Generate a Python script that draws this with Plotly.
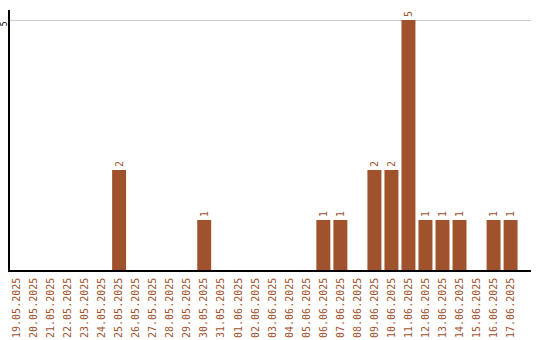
import plotly.graph_objects as go

dates = ["19.05.2025","20.05.2025","21.05.2025","22.05.2025","23.05.2025","24.05.2025",
         "25.05.2025","26.05.2025","27.05.2025","28.05.2025","29.05.2025","30.05.2025",
         "31.05.2025","01.06.2025","02.06.2025","03.06.2025","04.06.2025","05.06.2025",
         "06.06.2025","07.06.2025","08.06.2025","09.06.2025","10.06.2025","11.06.2025",
         "12.06.2025","13.06.2025","14.06.2025","15.06.2025","16.06.2025","17.06.2025"]
counts = [0,0,0,0,0,0,2,0,0,0,0,1,0,0,0,0,0,0,1,1,0,2,2,5,1,1,1,0,1,1]
labels = [str(c) if c > 0 else "" for c in counts]

color = "#A0522D"
fig = go.Figure(go.Bar(
    x=list(range(len(dates))), y=counts, text=labels,
    textposition="outside", textangle=-90, cliponaxis=False,
    textfont=dict(family="DejaVu Sans Mono", size=10, color=color),
    marker=dict(color=color, line=dict(width=0)),
))
fig.update_layout(
    width=540, height=340,
    margin=dict(l=10, r=9, t=10, b=70),
    paper_bgcolor="white", plot_bgcolor="white",
    bargap=0.18, showlegend=False,
    font=dict(family="DejaVu Sans Mono", size=10),
)
fig.update_xaxes(
    tickmode="array", tickvals=list(range(len(dates))), ticktext=dates,
    tickangle=-90, tickfont=dict(color=color, size=10, family="DejaVu Sans Mono"),
    range=[-0.41, 30.2], showline=True, linecolor="black", linewidth=1.5,
    showgrid=False, ticks="", ticklabelstandoff=2,
    zeroline=False, automargin=False,
)
fig.update_yaxes(
    range=[0, 5.2], tickvals=[5], ticktext=["5"], tickangle=-90,
    tickfont=dict(color="black", size=8, family="DejaVu Sans Mono"),
    showline=True, linecolor="black", linewidth=1.5, ticklabelstandoff=-2,
    ticklabelshift=5,
    showgrid=True, gridcolor="#cccccc", gridwidth=1, zeroline=False, ticks="",
    automargin=False,
)
fig.write_html("out.html")
